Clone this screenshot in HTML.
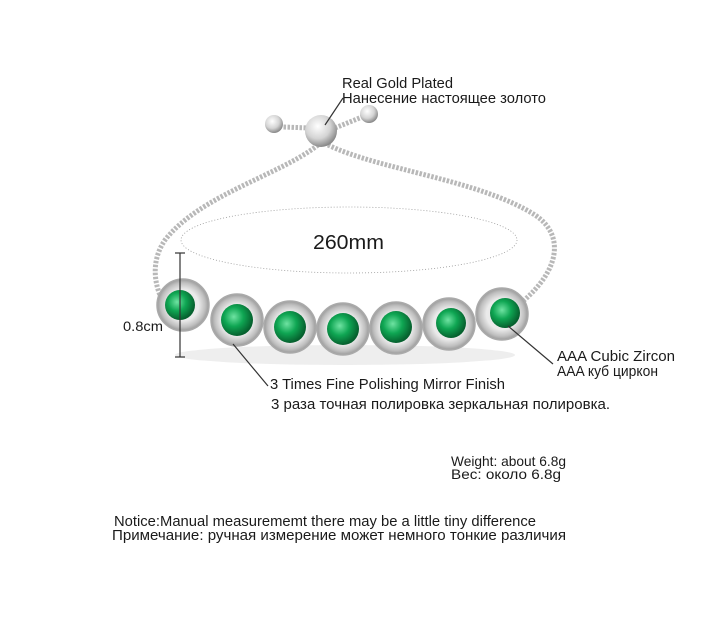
<!DOCTYPE html>
<html><head><meta charset="utf-8"><style>
html,body{margin:0;padding:0;background:#fff;}
svg{display:block;}
text{font-family:"Liberation Sans","DejaVu Sans",sans-serif;fill:#1a1a1a;}
</style></head><body>
<svg width="720" height="631" viewBox="0 0 720 631" xmlns="http://www.w3.org/2000/svg">
<defs>
<radialGradient id="g" cx="40%" cy="40%" r="60%"><stop offset="0" stop-color="#6fe3a2"/><stop offset="0.5" stop-color="#0fa653"/><stop offset="1" stop-color="#06602e"/></radialGradient>
<radialGradient id="s" cx="40%" cy="35%" r="65%"><stop offset="0" stop-color="#fff"/><stop offset="0.6" stop-color="#d4d4d4"/><stop offset="1" stop-color="#8a8a8a"/></radialGradient>
<radialGradient id="h" cx="50%" cy="50%" r="50%"><stop offset="0.6" stop-color="#eaeaea"/><stop offset="0.85" stop-color="#c0c0c0"/><stop offset="1" stop-color="#9a9a9a"/></radialGradient>
</defs>
<g fill="none" stroke="#b8b8b8" stroke-width="5" stroke-dasharray="2.5 1.5">
<path d="M318 145 C 280 175, 200 195, 165 240 C 150 262, 155 285, 162 300"/>
<path d="M328 145 C 380 170, 480 180, 535 215 C 565 235, 560 270, 522 302"/>
<path d="M310 128 L 283 127"/>
<path d="M335 128 L 362 117"/>
</g>
<circle cx="274" cy="124" r="9" fill="url(#s)"/>
<circle cx="369" cy="114" r="9" fill="url(#s)"/>
<circle cx="321" cy="131" r="16" fill="url(#s)"/>
<ellipse cx="349" cy="240" rx="168" ry="33" fill="none" stroke="#999" stroke-width="0.8" stroke-dasharray="1 2"/>
<text x="313" y="249" font-size="20" textLength="71" lengthAdjust="spacingAndGlyphs">260mm</text>
<ellipse cx="345" cy="355" rx="170" ry="10" fill="#eee"/>
<g stroke="#aaa" stroke-width="1.5">
<circle cx="183" cy="305" r="26" fill="url(#h)"/><circle cx="180" cy="305" r="15" fill="url(#g)" stroke="none"/>
<circle cx="237" cy="320" r="26" fill="url(#h)"/><circle cx="237" cy="320" r="16" fill="url(#g)" stroke="none"/>
<circle cx="290" cy="327" r="26" fill="url(#h)"/><circle cx="290" cy="327" r="16" fill="url(#g)" stroke="none"/>
<circle cx="343" cy="329" r="26" fill="url(#h)"/><circle cx="343" cy="329" r="16" fill="url(#g)" stroke="none"/>
<circle cx="396" cy="328" r="26" fill="url(#h)"/><circle cx="396" cy="327" r="16" fill="url(#g)" stroke="none"/>
<circle cx="449" cy="324" r="26" fill="url(#h)"/><circle cx="451" cy="323" r="15" fill="url(#g)" stroke="none"/>
<circle cx="502" cy="314" r="26" fill="url(#h)"/><circle cx="505" cy="313" r="15" fill="url(#g)" stroke="none"/>
</g>
<g stroke="#333" stroke-width="1.2">
<line x1="180" y1="253" x2="180" y2="357"/><line x1="175" y1="253" x2="185" y2="253"/><line x1="175" y1="357" x2="185" y2="357"/>
<line x1="343" y1="98" x2="325" y2="125"/>
<line x1="233" y1="344" x2="268" y2="386"/>
<line x1="508" y1="326" x2="553" y2="364"/>
</g>
<g lengthAdjust="spacingAndGlyphs">
<text x="342" y="88" font-size="15" textLength="111" lengthAdjust="spacingAndGlyphs">Real Gold Plated</text>
<text x="342" y="103" font-size="15" textLength="204" lengthAdjust="spacingAndGlyphs">Нанесение настоящее золото</text>
<text x="123" y="331" font-size="14" textLength="40" lengthAdjust="spacingAndGlyphs">0.8cm</text>
<text x="270" y="389" font-size="15" textLength="235" lengthAdjust="spacingAndGlyphs">3 Times Fine Polishing Mirror Finish</text>
<text x="271" y="409" font-size="15" textLength="339" lengthAdjust="spacingAndGlyphs">3 раза точная полировка зеркальная полировка.</text>
<text x="557" y="361" font-size="15" textLength="118" lengthAdjust="spacingAndGlyphs">AAA Cubic Zircon</text>
<text x="557" y="376" font-size="15" textLength="101" lengthAdjust="spacingAndGlyphs">AAA куб циркон</text>
<text x="451" y="466" font-size="14" textLength="115" lengthAdjust="spacingAndGlyphs">Weight: about  6.8g</text>
<text x="451" y="479" font-size="14" textLength="110" lengthAdjust="spacingAndGlyphs">Вес: около  6.8g</text>
<text x="114" y="526" font-size="15" textLength="422" lengthAdjust="spacingAndGlyphs">Notice:Manual measurememt there may be a little tiny difference</text>
<text x="112" y="540" font-size="15" textLength="454" lengthAdjust="spacingAndGlyphs">Примечание: ручная измерение может немного тонкие различия</text>
</g>
</svg>
</body></html>
